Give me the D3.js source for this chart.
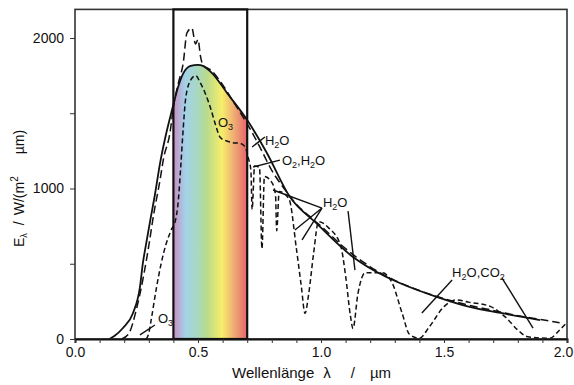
<!DOCTYPE html>
<html>

<head>
    <meta charset="utf-8">
    <script src="https://d3js.org/d3.v7.min.js"></script>
    <style>
    body { margin: 0; background: #fff; }
    text { font-family: "Liberation Sans", Arial, sans-serif; fill: #111; }
    </style>
</head>

<body>
    <div id="chart"></div>
    <script>
    // black body curve (solid)
    var blackBody = [[0.14, 0], [0.16, 20], [0.195, 73], [0.236, 173], [0.264, 345], [0.276, 505], [0.29, 640],
        [0.305, 780], [0.325, 960], [0.346, 1170], [0.37, 1360], [0.394, 1520], [0.42, 1680], [0.44, 1765],
        [0.47, 1815], [0.50, 1822], [0.52, 1815], [0.557, 1767], [0.618, 1635], [0.70, 1455], [0.78, 1236],
        [0.874, 943], [0.98, 771], [1.13, 545], [1.25, 425], [1.32, 372], [1.47, 280], [1.6, 215], [1.73, 173], [1.89, 126]];

    // outside the atmosphere (long dashes)
    var extraterrestrial = [[0.19, 0], [0.22, 40], [0.25, 200], [0.28, 430], [0.30, 620], [0.32, 830], [0.345, 1050],
        [0.36, 1200], [0.386, 1369], [0.40, 1540], [0.42, 1700], [0.44, 1834], [0.455, 2033], [0.475, 2066],
        [0.49, 1960], [0.50, 1990], [0.51, 1880], [0.52, 1820], [0.55, 1790], [0.60, 1690], [0.65, 1560],
        [0.70, 1430], [0.75, 1280], [0.80, 1120], [0.85, 1000], [0.90, 895], [0.95, 820], [1.0, 750],
        [1.1, 600], [1.2, 480], [1.3, 390], [1.4, 322], [1.5, 268], [1.6, 225], [1.7, 190], [1.8, 155], [1.9, 128], [1.97, 108]];

    // sea level (short dashes)
    var seaLevel = [[0.29, 0], [0.30, 40], [0.31, 130], [0.33, 330], [0.35, 500], [0.37, 630], [0.39, 720],
        [0.41, 800], [0.42, 920], [0.43, 1150], [0.44, 1400], [0.45, 1600], [0.47, 1720], [0.49, 1750],
        [0.51, 1700], [0.53, 1630], [0.55, 1540], [0.57, 1430], [0.59, 1340], [0.61, 1320], [0.64, 1305],
        [0.67, 1300], [0.69, 1280], [0.705, 1200], [0.715, 1120], [0.72, 860], [0.73, 1150], [0.75, 1140],
        [0.76, 600], [0.77, 1080], [0.80, 1040], [0.815, 960], [0.82, 720], [0.83, 980], [0.87, 930],
        [0.90, 600], [0.92, 350], [0.935, 170], [0.95, 300], [0.97, 570], [0.99, 780], [1.03, 740],
        [1.08, 620], [1.10, 420], [1.12, 150], [1.13, 70], [1.15, 300], [1.18, 440], [1.25, 440],
        [1.29, 370], [1.33, 170], [1.36, 30], [1.40, 5], [1.44, 80], [1.50, 215], [1.55, 260], [1.60, 245],
        [1.69, 215], [1.75, 145], [1.80, 60], [1.84, 15], [1.93, 5], [1.97, 60], [2.0, 110]];

    var xTicks = d3.range(0, 21).map(function(i) { return i / 10; });
    var xLabels = [0, 0.5, 1.0, 1.5, 2.0];
    var yTicks = [0, 500, 1000, 1500, 2000];
    var yLabels = [0, 1000, 2000];
    var visibleBand = [0.4, 0.7];

    // label text + anchor in data units, leader lines [[l1,e1],[l2,e2]]
    var notes = [
        { text: "O", sub: "3", at: [0.337, 106], lines: [[[0.264, 27], [0.325, 93]]] },
        { text: "O", sub: "3", at: [0.581, 1409], lines: [] },
        { text: "H", sub: "2", rest: "O", at: [0.772, 1289], lines: [[[0.72, 1276], [0.772, 1342]]] },
        { text: "O", sub: "2", rest: ",H", sub2: "2", rest2: "O", at: [0.841, 1156], lines: [[[0.833, 1189], [0.724, 1143]]] },
        { text: "H", sub: "2", rest: "O", at: [1.008, 877], lines: [[[1.004, 870], [0.805, 990]], [[1.004, 870], [0.894, 724]],
            [[1.004, 870], [0.923, 658]], [[1.11, 850], [1.138, 458]]] },
        { text: "H", sub: "2", rest: "O,CO", sub2: "2", at: [1.533, 412], lines: [[[1.533, 392], [1.41, 173]], [[1.736, 405], [1.862, 73]]] }
    ];

    var W = 574, H = 385;
    var yMax = 2190;
    var x = d3.scaleLinear().domain([0, 2]).range([75, 567]);
    var y = d3.scaleLinear().domain([0, 2000]).range([339, 38]);

    var svg = d3.select("#chart").append("svg")
        .attr("width", W).attr("height", H);

    var defs = svg.append("defs");
    var grad = defs.append("linearGradient").attr("id", "rainbow")
        .attr("gradientUnits", "userSpaceOnUse")
        .attr("x1", x(visibleBand[0])).attr("x2", x(visibleBand[1]))
        .attr("y1", 0).attr("y2", 0);
    [[0, "#c98cc0"], [0.16, "#a3d2e8"], [0.33, "#a8d8c0"], [0.45, "#b9da8c"], [0.66, "#f7ee6a"],
        [0.8, "#efb574"], [1, "#e8636c"]].forEach(function(s) {
        grad.append("stop").attr("offset", s[0]).attr("stop-color", s[1]);
    });
    defs.append("clipPath").attr("id", "band").append("rect")
        .attr("x", x(visibleBand[0])).attr("y", y(yMax))
        .attr("width", x(visibleBand[1]) - x(visibleBand[0])).attr("height", y(0) - y(yMax));

    // rainbow under the black body curve
    var area = d3.area().curve(d3.curveMonotoneX)
        .x(function(d) { return x(d[0]); })
        .y0(y(0)).y1(function(d) { return y(d[1]); });
    svg.append("path").datum(blackBody)
        .attr("d", area)
        .attr("fill", "url(#rainbow)")
        .attr("clip-path", "url(#band)");

    var line = d3.line().curve(d3.curveMonotoneX)
        .x(function(d) { return x(d[0]); })
        .y(function(d) { return y(d[1]); });

    svg.append("path").datum(seaLevel).attr("d", line)
        .attr("fill", "none").attr("stroke", "#111").attr("stroke-width", 1.5)
        .attr("stroke-dasharray", "5,3");
    svg.append("path").datum(extraterrestrial).attr("d", line)
        .attr("fill", "none").attr("stroke", "#111").attr("stroke-width", 1.5)
        .attr("stroke-dasharray", "8,4");
    svg.append("path").datum(blackBody).attr("d", line)
        .attr("fill", "none").attr("stroke", "#111").attr("stroke-width", 1.8);

    // frame and visible band box
    svg.append("rect")
        .attr("x", x(0)).attr("y", y(yMax))
        .attr("width", x(2) - x(0)).attr("height", y(0) - y(yMax))
        .attr("fill", "none").attr("stroke", "#333").attr("stroke-width", 1.6);
    svg.append("rect")
        .attr("x", x(visibleBand[0])).attr("y", y(yMax))
        .attr("width", x(visibleBand[1]) - x(visibleBand[0])).attr("height", y(0) - y(yMax))
        .attr("fill", "none").attr("stroke", "#111").attr("stroke-width", 2.2);

    // axes
    var xAxis = d3.axisBottom(x).tickValues(xTicks).tickSize(4).tickPadding(4)
        .tickFormat(function(d) { return xLabels.some(function(v) { return Math.abs(v - d) < 1e-9; }) ? d3.format(".1f")(d) : ""; });
    var gx = svg.append("g").attr("transform", "translate(0," + y(0) + ")").call(xAxis);
    gx.select(".domain").attr("stroke", "#111").attr("stroke-width", 2);
    gx.selectAll(".tick line").attr("stroke", "#333");
    gx.selectAll("text").style("font-size", "14px").attr("fill", "#111")
        .attr("dx", function(d) { return d === 2 ? -4 : 0; });

    var yAxis = d3.axisLeft(y).tickValues(yTicks).tickSize(5).tickPadding(6)
        .tickFormat(function(d) { return yLabels.indexOf(d) >= 0 ? d : ""; });
    var gy = svg.append("g").attr("transform", "translate(" + x(0) + ",0)").call(yAxis);
    gy.select(".domain").remove();
    gy.selectAll(".tick line").attr("stroke", "#333");
    gy.selectAll("text").style("font-size", "14px").attr("fill", "#111");

    // axis titles
    var xt = svg.append("text").attr("x", 232).attr("y", 378).style("font-size", "15px");
    xt.append("tspan").text("Wellenlänge");
    xt.append("tspan").attr("dx", 9).text("λ");
    xt.append("tspan").attr("dx", 20).text("/");
    xt.append("tspan").attr("dx", 15).text("µm");

    var yt = svg.append("text").attr("transform", "translate(24,247) rotate(-90)").style("font-size", "14px");
    yt.append("tspan").text("E");
    yt.append("tspan").attr("dy", 3).style("font-size", "9px").text("λ");
    yt.append("tspan").attr("dy", -3).attr("dx", 8).text("/");
    yt.append("tspan").attr("dx", 6).text("W/(m");
    yt.append("tspan").attr("dy", -6).style("font-size", "10px").text("2");
    yt.append("tspan").attr("dy", 6).attr("dx", 22).text("µm)");

    // annotations
    notes.forEach(function(n) {
        n.lines.forEach(function(l) {
            svg.append("line")
                .attr("x1", x(l[0][0])).attr("y1", y(l[0][1]))
                .attr("x2", x(l[1][0])).attr("y2", y(l[1][1]))
                .attr("stroke", "#111").attr("stroke-width", 1.4);
        });
        var t = svg.append("text").attr("x", x(n.at[0])).attr("y", y(n.at[1])).style("font-size", "13px");
        t.append("tspan").text(n.text);
        t.append("tspan").attr("dy", 3).style("font-size", "9px").text(n.sub);
        if (n.rest) t.append("tspan").attr("dy", -3).text(n.rest);
        if (n.sub2) t.append("tspan").attr("dy", 3).style("font-size", "9px").text(n.sub2);
        if (n.rest2) t.append("tspan").attr("dy", -3).text(n.rest2);
    });
    </script>
</body>

</html>
